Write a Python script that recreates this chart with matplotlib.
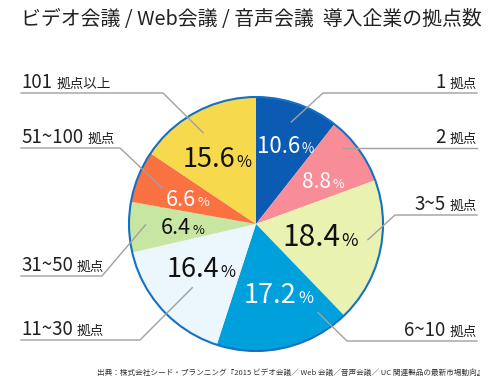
import matplotlib.pyplot as plt
import numpy as np

plt.rcParams['font.family'] = ['Noto Sans CJK JP', 'DejaVu Sans']

title = 'ビデオ会議 / Web会議 / 音声会議  導入企業の拠点数'
source = '出典：株式会社シード・プランニング『2015 ビデオ会議／ Web 会議／音声会議／ UC 関連製品の最新市場動向』'

# slices, clockwise from 12 o'clock
nums = ['1', '2', '3~5', '6~10', '11~30', '31~50', '51~100', '101']
suffixes = ['拠点', '拠点', '拠点', '拠点', '拠点', '拠点', '拠点', '拠点以上']
shares = [10.6, 8.8, 18.4, 17.2, 16.4, 6.4, 6.6, 15.6]

colors = ['#0b5bb3', '#f88d98', '#e9f2b1', '#00a0dc', '#ecf6fd', '#c7e6a2', '#fa7142', '#f6d94c']
pct_colors = ['white', 'white', '#111111', 'white', '#111111', '#111111', 'white', '#111111']
pct_sizes = [16, 15, 21.5, 19.5, 19.5, 15.5, 15.5, 19.5]
pct_off = [-1, -3, 3, 5, -4.5, 0.5, 1, 2]
pct_r = [0.66, 0.63, 0.51, 0.57, 0.55, 0.58, 0.58, 0.61]

# leader lines (pixel layout, y from top)
side = ['R', 'R', 'R', 'R', 'L', 'L', 'L', 'L']
line_y = [93, 148, 215, 341, 340, 276, 148, 93]
elbow_x = [323, None, 395, 347, 140, 102, 120, 163]
ptr_off = [0, 5, 5, 22, 2.5, -1, 1, 2]
ptr_r = [0.85, 0.91, 0.89, 0.85, 0.71, 0.87, 0.79, 0.83]

W, H = 500, 386
fig = plt.figure(figsize=(5, 3.86), dpi=100)
ax = fig.add_axes([0, 0, 1, 1])

cx, cy, R = 256, H - 224, 127
wedges, _ = ax.pie(shares, colors=colors, startangle=90, counterclock=False,
                   center=(cx, cy), radius=R, frame=True,
                   wedgeprops=dict(linewidth=0))
ax.add_patch(plt.Circle((cx, cy), R, fill=False, ec='#1670c4', lw=1.5))
ax.set_xlim(0, W)
ax.set_ylim(0, H)
ax.set_aspect('equal')
ax.axis('off')

pairs = []
for w, s, col, size, off, rf in zip(wedges, shares, pct_colors, pct_sizes, pct_off, pct_r):
    a = np.deg2rad((w.theta1 + w.theta2) / 2 + off)
    x = cx + rf * R * np.cos(a)
    yc = cy + rf * R * np.sin(a)
    yb = yc - 0.365 * size * 100 / 72
    t = ax.text(x, yb, f'{s:.1f}', ha='center', va='baseline', fontsize=size, color=col)
    p = ax.annotate('%', xy=(1, yb), xycoords=(t, 'data'), xytext=(1, 0),
                    textcoords='offset points', ha='left', va='baseline',
                    fontsize=size * 0.6, color=col)
    pairs.append((t, p, x, yb))

for i, w in enumerate(wedges):
    a = np.deg2rad((w.theta1 + w.theta2) / 2 + ptr_off[i])
    px = cx + ptr_r[i] * R * np.cos(a)
    py = cy + ptr_r[i] * R * np.sin(a)
    ly = H - line_y[i]
    end = 477 if side[i] == 'R' else 21
    if elbow_x[i] is None:
        xs, ys = [px, end], [ly, ly]
    else:
        xs, ys = [px, elbow_x[i], end], [py, ly, ly]
    ax.plot(xs, ys, color='#a0a0a0', lw=1)
    yb = ly + 5
    if side[i] == 'R':
        suf = ax.text(end, yb, suffixes[i], ha='right', va='baseline', fontsize=9.8, color='#222222')
        ax.annotate(nums[i], xy=(0, yb), xycoords=(suf, 'data'), xytext=(-3, 0),
                    textcoords='offset points', ha='right', va='baseline',
                    fontsize=13.5, color='#222222')
    else:
        num = ax.text(end, yb, nums[i], ha='left', va='baseline', fontsize=13.5, color='#222222')
        ax.annotate(suffixes[i], xy=(1, yb), xycoords=(num, 'data'), xytext=(3, 0),
                    textcoords='offset points', ha='left', va='baseline',
                    fontsize=9.8, color='#222222')

ax.text(251, H - 20, title, ha='center', va='center', fontsize=14.3, color='#222222')
ax.text(484, H - 373, source, ha='right', va='center', fontsize=5.5, color='#333333')

# center number + % together
fig.canvas.draw()
for t, p, x, yb in pairs:
    wp = p.get_window_extent().width + 1
    t.set_position((x - wp / 2, yb))

fig.savefig('out.png', dpi=100)
